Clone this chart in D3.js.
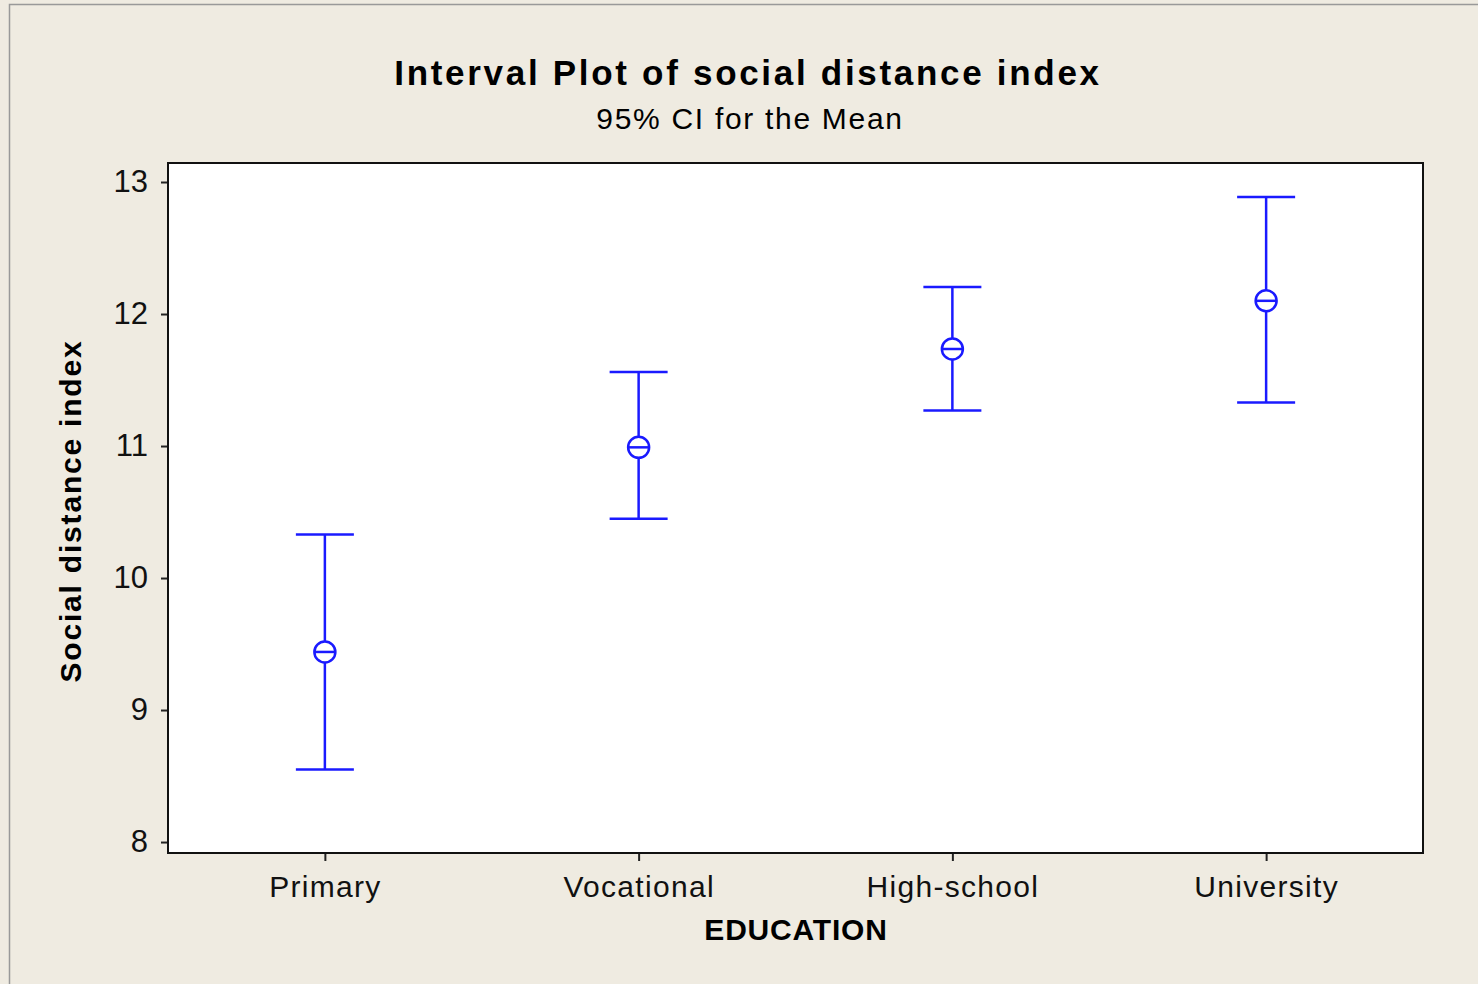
<!DOCTYPE html>
<html>
<head>
<meta charset="utf-8">
<script src="https://cdn.jsdelivr.net/npm/d3@7"></script>
<style>
  body { margin: 0; background: #efebe1; }
  svg { display: block; font-family: "Liberation Sans", Arial, sans-serif; }
</style>
</head>
<body>
<svg width="1478" height="984"></svg>
<script>
// education levels and 95% CI of the mean
const categories = ['Primary', 'Vocational', 'High-school', 'University']
const means = [9.44, 10.99, 11.735, 12.10]
const lower = [8.55, 10.45, 11.27, 11.33]
const upper = [10.33, 11.56, 12.205, 12.886]
const yTicks = [8, 9, 10, 11, 12, 13]

const data = categories.map((c, i) => ({ cat: c, mean: means[i], lo: lower[i], hi: upper[i] }))

const svg = d3.select('svg')
const plot = { left: 168, top: 163, right: 1423, bottom: 853 }

// outer border
svg.append('rect')
  .attr('x', 9.5).attr('y', 4.5)
  .attr('width', 1500).attr('height', 1000)
  .attr('fill', '#efebe1')
  .attr('stroke', '#999').attr('stroke-width', 1.5)

const x = d3.scalePoint()
  .domain(categories)
  .range([plot.left, plot.right])
  .padding(0.5)

const y = d3.scaleLinear()
  .domain([7.917, 13.144])
  .range([plot.bottom, plot.top])

svg.append('rect')
  .attr('x', plot.left).attr('y', plot.top)
  .attr('width', plot.right - plot.left)
  .attr('height', plot.bottom - plot.top)
  .attr('fill', '#fff')

const yAxis = svg.append('g')
  .attr('transform', `translate(${plot.left},0)`)
  .call(d3.axisLeft(y).tickValues(yTicks).tickSize(7).tickPadding(13).tickFormat(d3.format('d')))
yAxis.select('.domain').remove()
yAxis.selectAll('line').attr('stroke', '#222').attr('stroke-width', 2)
yAxis.selectAll('text').attr('font-size', 31).attr('fill', '#111')

const xAxis = svg.append('g')
  .attr('transform', `translate(0,${plot.bottom})`)
  .call(d3.axisBottom(x).tickSize(8).tickPadding(15))
xAxis.select('.domain').remove()
xAxis.selectAll('line').attr('stroke', '#222').attr('stroke-width', 2)
xAxis.selectAll('text').attr('font-size', 30).attr('letter-spacing', 1.3).attr('fill', '#111')

svg.append('rect')
  .attr('x', plot.left).attr('y', plot.top)
  .attr('width', plot.right - plot.left)
  .attr('height', plot.bottom - plot.top)
  .attr('fill', 'none')
  .attr('stroke', '#111').attr('stroke-width', 2)

// interval bars
const blue = '#1a1aff'
const cap = 29
const bars = svg.append('g').selectAll('g')
  .data(data)
  .enter()
  .append('g')
  .attr('stroke', blue).attr('stroke-width', 2.5).attr('fill', 'none')

bars.append('line')
  .attr('x1', d => x(d.cat)).attr('x2', d => x(d.cat))
  .attr('y1', d => y(d.hi)).attr('y2', d => y(d.mean) - 11)
bars.append('line')
  .attr('x1', d => x(d.cat)).attr('x2', d => x(d.cat))
  .attr('y1', d => y(d.mean) + 11).attr('y2', d => y(d.lo))
bars.append('line')
  .attr('x1', d => x(d.cat) - cap).attr('x2', d => x(d.cat) + cap)
  .attr('y1', d => y(d.hi)).attr('y2', d => y(d.hi))
bars.append('line')
  .attr('x1', d => x(d.cat) - cap).attr('x2', d => x(d.cat) + cap)
  .attr('y1', d => y(d.lo)).attr('y2', d => y(d.lo))
bars.append('circle')
  .attr('cx', d => x(d.cat)).attr('cy', d => y(d.mean))
  .attr('r', 10.5)
bars.append('line')
  .attr('x1', d => x(d.cat) - 10.5).attr('x2', d => x(d.cat) + 10.5)
  .attr('y1', d => y(d.mean)).attr('y2', d => y(d.mean))

// titles
svg.append('text')
  .attr('x', 748).attr('y', 85)
  .attr('text-anchor', 'middle')
  .attr('font-size', 35).attr('font-weight', 'bold')
  .attr('letter-spacing', 2.7)
  .text('Interval Plot of social distance index')

svg.append('text')
  .attr('x', 750).attr('y', 129)
  .attr('text-anchor', 'middle')
  .attr('font-size', 30)
  .attr('letter-spacing', 1.7)
  .text('95% CI for the Mean')

svg.append('text')
  .attr('x', 796).attr('y', 940)
  .attr('text-anchor', 'middle')
  .attr('font-size', 30).attr('font-weight', 'bold')
  .attr('letter-spacing', 0.8)
  .text('EDUCATION')

svg.append('text')
  .attr('transform', 'translate(81,511) rotate(-90)')
  .attr('text-anchor', 'middle')
  .attr('font-size', 30).attr('font-weight', 'bold')
  .attr('letter-spacing', 1.8)
  .text('Social distance index')
</script>
</body>
</html>
